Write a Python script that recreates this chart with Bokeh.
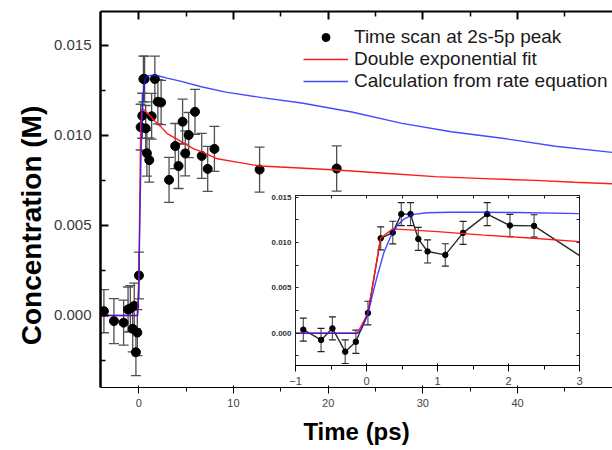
from bokeh.plotting import figure
from bokeh.models import (Range1d, LinearAxis, FixedTicker, PrintfTickFormatter, Whisker, Label,
                          TeeHead, ColumnDataSource, Legend, LegendItem, Title, CustomJSTickFormatter)
from bokeh.embed import file_html
from bokeh.resources import INLINE
from math import pi

# ---------------- data ----------------
time_ps = [-3.68, -2.62, -1.60, -1.13, -0.89, -0.64, -0.48, -0.30, -0.15, 0.02,
           0.20, 0.37, 0.49, 0.62, 0.73, 0.86, 1.11, 1.36, 1.70, 2.02, 2.36,
           3.20, 3.85, 4.20, 4.63, 4.91, 5.27, 5.94, 6.65, 7.28, 7.99, 12.76, 20.90]
conc_M = [0.00024, -0.00031, -0.00040, 0.00033, 0.00039, -0.00074, 0.00053, -0.00204, -0.00095, 0.00222,
          0.01046, 0.01109, 0.01313, 0.01313, 0.01039, 0.00901, 0.00863, 0.01106, 0.01313, 0.01187, 0.01183,
          0.00753, 0.00941, 0.00830, 0.01076, 0.00900, 0.01002, 0.01131, 0.00886, 0.00814, 0.00925, 0.00810, 0.00816]
err_M = [0.00120, 0.00125, 0.00125, 0.00125, 0.00127, 0.00128, 0.00127, 0.00130, 0.00128, 0.00130,
         0.00127, 0.00125, 0.00127, 0.00127, 0.00127, 0.00127, 0.00123, 0.00127, 0.00127, 0.00123, 0.00123,
         0.00125, 0.00125, 0.00125, 0.00125, 0.00125, 0.00125, 0.00125, 0.00125, 0.00125, 0.00125, 0.00125, 0.00126]

fit_t = [-4.1, -0.13, 0.02, 0.20, 0.37, 1.0, 1.65, 2.3, 3.0, 3.9, 5.0, 5.7, 6.6, 8.3, 10.5,
         12.8, 16.0, 20.9, 26.0, 31.3, 36.5, 41.9, 46.0, 50.1]
fit_c = [0.0, 0.0, 0.0022, 0.0105, 0.0115, 0.0112, 0.01081, 0.0105, 0.0101, 0.00983, 0.0095, 0.00928,
         0.0091, 0.0087, 0.0085, 0.0083, 0.00822, 0.00808, 0.0079, 0.00771, 0.0076, 0.0075, 0.0074, 0.00731]

calc_t = [-4.1, -0.13, -0.085, -0.038, 0.023, 0.08, 0.141, 0.244, 0.338, 0.432, 0.526, 0.667, 0.854,
          1.18, 1.6, 2.12, 3.0, 4.5, 6.6, 9.2, 13.0, 17.2, 22.5, 27.8, 33.0, 38.4, 44.0, 50.1]
calc_c = [0.0, 0.0, 0.00025, 0.00095, 0.0022, 0.0041, 0.0060, 0.00887, 0.01063, 0.01187, 0.01257,
          0.0131, 0.01328, 0.01333, 0.01334, 0.0133, 0.01318, 0.0130, 0.0127, 0.0124, 0.0121, 0.0118,
          0.0113, 0.01067, 0.0102, 0.00984, 0.0094, 0.00905]

main_y_ticks = [0.0, 0.005, 0.010, 0.015]
main_y_minor = [-0.0025, 0.0025, 0.0075, 0.0125]
main_x_ticks = [0, 10, 20, 30, 40]
main_x_minor = [5, 15, 25, 35, 45]
inset_x_ticks = [-1, 0, 1, 2, 3]
inset_x_minor = [-0.5, 0.5, 1.5, 2.5]

FONT = "Liberation Sans"
BLANK = CustomJSTickFormatter(code="return ''")

# ---------------- main figure ----------------
p = figure(width=612, height=450, x_range=Range1d(-4.04, 50.03), y_range=Range1d(-0.004, 0.01688),
           toolbar_location=None, output_backend="svg",
           min_border_left=100, min_border_right=0, min_border_top=11, min_border_bottom=62,
           outline_line_color=None, background_fill_color="white", border_fill_color="white")
p.grid.visible = False

for ax in p.yaxis:
    ax.ticker = FixedTicker(ticks=main_y_ticks, minor_ticks=main_y_minor)
    ax.formatter = PrintfTickFormatter(format="%.3f")
for ax in p.xaxis:
    ax.ticker = FixedTicker(ticks=main_x_ticks, minor_ticks=main_x_minor)

top_ax = LinearAxis(ticker=FixedTicker(ticks=main_x_ticks, minor_ticks=main_x_minor),
                    formatter=BLANK, major_label_text_font_size="1px", major_label_standoff=0)
p.add_layout(top_ax, "above")

for ax in [p.xaxis[0], p.yaxis[0], top_ax]:
    ax.axis_line_width = 2.5
    ax.axis_line_color = "black"
    ax.major_tick_in = 8
    ax.major_tick_out = 0
    ax.minor_tick_in = 5
    ax.minor_tick_out = 0
    ax.major_tick_line_width = 2
    ax.minor_tick_line_width = 1.5
    ax.major_tick_line_color = "black"
    ax.minor_tick_line_color = "black"
top_ax.axis_line_width = 2
for ax in [p.xaxis[0], p.yaxis[0]]:
    ax.major_label_text_font = FONT
    ax.major_label_text_font_size = "15px"
    ax.major_label_text_color = "#3a3a3a"
p.yaxis[0].major_label_standoff = 9
p.xaxis[0].major_label_standoff = 6

p.add_layout(Title(text="Time (ps)", align="center", offset=7, standoff=12,
                   text_font=FONT, text_font_size="24px", text_font_style="bold",
                   text_color="black"), "below")

src = ColumnDataSource(dict(t=time_ps, c=conc_M,
                            up=[c + e for c, e in zip(conc_M, err_M)],
                            lo=[c - e for c, e in zip(conc_M, err_M)]))
wk = Whisker(source=src, base="t", upper="up", lower="lo", line_color="#505050", line_width=1.3,
             upper_head=TeeHead(size=10, line_color="#505050", line_width=1.3),
             lower_head=TeeHead(size=10, line_color="#505050", line_width=1.3))
p.add_layout(wk)
pts = p.scatter("t", "c", source=src, size=9, color="black")
red = p.line(fit_t, fit_c, line_color="#ff1a1a", line_width=1.4)
blue = p.line(calc_t, calc_c, line_color="#1a1aff", line_width=1.4, line_alpha=0.8)

leg = Legend(items=[LegendItem(label="Time scan at 2s-5p peak", renderers=[pts]),
                    LegendItem(label="Double exponential fit", renderers=[red]),
                    LegendItem(label="Calculation from rate equation", renderers=[blue])],
             location=(203, 295), border_line_color=None, background_fill_alpha=0,
             label_text_font=FONT, label_text_font_size="19px", label_text_color="#1a1a1a",
             glyph_width=45, glyph_height=20, label_height=20, label_standoff=6,
             spacing=0, padding=0, margin=0)
p.add_layout(leg)

# ---------------- y-axis title (own small transparent canvas) ----------------
r = figure(width=40, height=300, x_range=Range1d(0, 1), y_range=Range1d(0, 1),
           toolbar_location=None, output_backend="svg", min_border=0,
           outline_line_color=None, background_fill_color=None, border_fill_color=None)
r.axis.visible = False
r.grid.visible = False
r.styles = {"position": "absolute", "left": "11px", "top": "75px"}
r.add_layout(Label(x=0.5, y=0.5, text="Concentration (M)", angle=pi / 2,
                   text_font=FONT, text_font_size="28px", text_font_style="bold",
                   text_align="center", text_baseline="middle", text_color="black"))

# ---------------- inset ----------------
in_t = [t for t in time_ps if -1 <= t <= 3.5]
in_c = [c for t, c in zip(time_ps, conc_M) if -1 <= t <= 3.5]
in_e = [e for t, e in zip(time_ps, err_M) if -1 <= t <= 3]
in_tw = [t for t in time_ps if -1 <= t <= 3]
in_cw = [c for t, c in zip(time_ps, conc_M) if -1 <= t <= 3]

q = figure(width=322, height=198, x_range=Range1d(-1, 3), y_range=Range1d(-0.00356, 0.01518),
           toolbar_location=None, output_backend="svg",
           min_border_left=32, min_border_right=6, min_border_top=6, min_border_bottom=14,
           background_fill_color=None, border_fill_color=None, outline_line_color="black",
           outline_line_width=1)
q.grid.visible = False
q.styles = {"position": "absolute", "left": "263px", "top": "189px"}

for ax in q.yaxis:
    ax.ticker = FixedTicker(ticks=main_y_ticks, minor_ticks=main_y_minor)
    ax.formatter = PrintfTickFormatter(format="%.3f")
for ax in q.xaxis:
    ax.ticker = FixedTicker(ticks=inset_x_ticks, minor_ticks=inset_x_minor)
q_top = LinearAxis(ticker=FixedTicker(ticks=inset_x_ticks, minor_ticks=inset_x_minor),
                   formatter=BLANK, major_label_text_font_size="1px", major_label_standoff=0)
q_right = LinearAxis(ticker=FixedTicker(ticks=main_y_ticks, minor_ticks=main_y_minor),
                     formatter=BLANK, major_label_text_font_size="1px", major_label_standoff=0)
q.add_layout(q_top, "above")
q.add_layout(q_right, "right")
for ax in [q.xaxis[0], q.yaxis[0], q_top, q_right]:
    ax.axis_line_width = 1
    ax.axis_line_color = "#222222"
    ax.major_tick_in = 3
    ax.major_tick_out = 0
    ax.minor_tick_in = 3
    ax.minor_tick_out = 0
    ax.major_tick_line_color = "#222222"
    ax.minor_tick_line_color = "#222222"
for ax in [q.xaxis[0], q.yaxis[0]]:
    ax.major_label_text_font = FONT
    ax.major_label_text_font_size = "8px"
    ax.major_label_text_font_style = "bold"
    ax.major_label_text_color = "#333333"
    ax.major_label_standoff = 4

qsrc = ColumnDataSource(dict(t=in_tw, up=[c + e for c, e in zip(in_cw, in_e)],
                             lo=[c - e for c, e in zip(in_cw, in_e)]))
q.add_layout(Whisker(source=qsrc, base="t", upper="up", lower="lo", line_color="#555555", line_width=1.2,
                     upper_head=TeeHead(size=7, line_color="#222222", line_width=1.2),
                     lower_head=TeeHead(size=7, line_color="#222222", line_width=1.2)))
q.line(in_t, in_c, line_color="#2a2a2a", line_width=1.4)
q.scatter(in_t, in_c, size=5.5, color="black")
q.line(fit_t, fit_c, line_color="#ff1a1a", line_width=1.4)
q.line(calc_t, calc_c, line_color="#1a1aff", line_width=1.4, line_alpha=0.8)

open("out.html", "w").write(file_html([p, q, r], INLINE))
